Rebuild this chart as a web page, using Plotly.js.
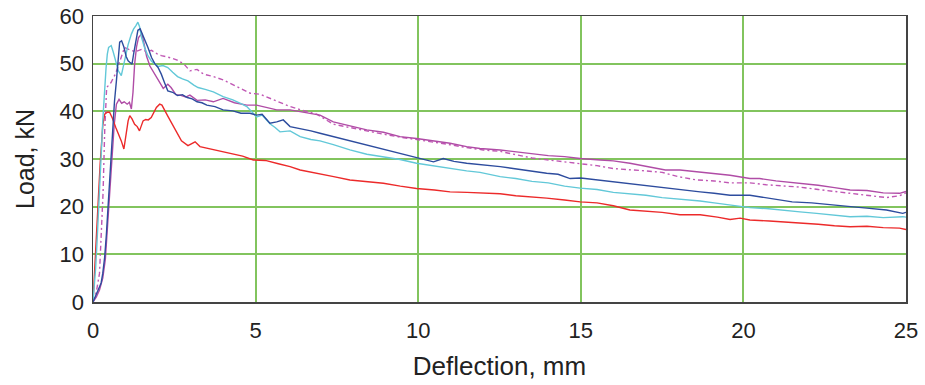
<!DOCTYPE html>
<html>
<head>
<meta charset="utf-8">
<script src="https://cdn.plot.ly/plotly-3.0.1.min.js"></script>
<style>html,body{margin:0;padding:0;background:#fff;}#chart{width:925px;height:385px;}</style>
</head>
<body>
<div id="chart"></div>
<script>
// Deflection (mm) and Load (kN)
var redX = [0, 0.03, 0.06, 0.1, 0.14, 0.18, 0.22, 0.26, 0.3, 0.36, 0.44, 0.51, 0.6, 0.7, 0.8, 0.87, 0.95, 1.02, 1.08, 1.13, 1.2, 1.28, 1.36, 1.43, 1.5, 1.54, 1.62, 1.7, 1.79, 1.87, 1.95, 2.05, 2.12, 2.3, 2.5, 2.72, 2.92, 3.05, 3.14, 3.29, 3.5, 3.8, 4.21, 4.6, 4.93, 5.3, 5.7, 6.06, 6.37, 6.9, 7.4, 7.9, 8.42, 8.93, 9.45, 9.95, 10.5, 10.98, 11.5, 12.0, 12.52, 13.0, 13.5, 13.95, 14.5, 14.98, 15.5, 16.0, 16.51, 17.0, 17.5, 18.05, 18.67, 19.2, 19.59, 19.9, 20.2, 20.8, 21.3, 21.74, 22.3, 22.8, 23.28, 23.8, 24.3, 24.8, 25.0];
var redY = [0, 4, 9, 15, 20, 25, 29, 33, 37, 39.4, 39.8, 39.8, 38.5, 36.6, 35, 33.8, 32.1, 35.5, 38, 39.1, 38.4, 37.3, 36.8, 35.9, 37, 38, 38.3, 38.2, 38.7, 39.6, 40.8, 41.5, 41.3, 39, 36.5, 33.8, 32.8, 33.2, 33.6, 32.6, 32.3, 31.8, 31.2, 30.6, 29.8, 29.7, 29.0, 28.4, 27.7, 26.9, 26.3, 25.6, 25.2, 24.9, 24.3, 23.8, 23.5, 23.1, 23.0, 22.8, 22.7, 22.3, 22.1, 21.8, 21.4, 21.0, 20.8, 20.2, 19.3, 19.1, 18.8, 18.3, 18.3, 17.8, 17.3, 17.6, 17.2, 17.0, 16.8, 16.5, 16.3, 16.0, 15.8, 15.9, 15.6, 15.5, 15.2];

var blueX = [0, 0.05, 0.1, 0.15, 0.2, 0.25, 0.3, 0.36, 0.41, 0.46, 0.51, 0.56, 0.61, 0.66, 0.72, 0.77, 0.82, 0.88, 0.95, 1.02, 1.08, 1.13, 1.2, 1.26, 1.32, 1.38, 1.45, 1.52, 1.6, 1.69, 1.8, 1.9, 2.0, 2.1, 2.2, 2.3, 2.45, 2.6, 2.75, 2.9, 3.05, 3.2, 3.35, 3.5, 3.75, 4.0, 4.3, 4.55, 4.83, 5.03, 5.2, 5.44, 5.65, 5.85, 6.06, 6.37, 6.7, 6.98, 7.39, 7.9, 8.42, 8.93, 9.44, 9.95, 10.2, 10.47, 10.77, 11.1, 11.49, 12.0, 12.52, 12.92, 13.4, 13.95, 14.3, 14.67, 15.0, 15.5, 16.0, 16.5, 17.0, 17.5, 18.05, 18.67, 19.1, 19.59, 20.2, 20.8, 21.5, 22.1, 22.77, 23.3, 23.8, 24.4, 24.9, 25.0];
var blueY = [0, 0.8, 1.5, 2.2, 3, 4, 6, 9.5, 14, 20, 26, 32, 37, 42, 46.4, 51, 54.5, 54.8, 53.5, 51.5, 50.6, 50.3, 49.9, 52.5, 55.2, 57, 57.3, 56.2, 55, 53.4, 51.3, 50, 49.2, 47.8, 46, 44.3, 44, 43.3, 43.5, 42.9, 42.6, 42, 41.8, 41.3, 41.0, 40.3, 40.1, 39.6, 39.6, 39.2, 39.4, 37.5, 37.8, 38.2, 36.8, 36.4, 35.9, 35.4, 34.7, 33.8, 32.9, 32.1, 31.2, 30.3, 30.0, 29.4, 30.1, 29.5, 29.1, 28.8, 28.4, 28, 27.5, 27, 26.8, 25.9, 26.0, 25.6, 25.2, 24.8, 24.4, 23.9, 23.5, 23.1, 22.8, 22.4, 22.4, 21.8, 21, 20.8, 20.3, 20.0, 19.7, 19.3, 18.6, 18.8];

var cyanX = [0, 0.04, 0.08, 0.12, 0.16, 0.2, 0.23, 0.26, 0.3, 0.35, 0.4, 0.44, 0.48, 0.52, 0.56, 0.62, 0.7, 0.78, 0.87, 0.93, 1.0, 1.08, 1.18, 1.25, 1.32, 1.38, 1.43, 1.49, 1.58, 1.68, 1.8, 1.9, 2.0, 2.15, 2.3, 2.45, 2.6, 2.75, 2.92, 3.1, 3.23, 3.45, 3.7, 4.0, 4.3, 4.55, 4.73, 4.83, 5.03, 5.2, 5.34, 5.44, 5.6, 5.75, 6.06, 6.37, 6.7, 6.98, 7.39, 7.9, 8.42, 8.93, 9.44, 9.95, 10.5, 10.98, 11.49, 11.9, 12.52, 13.0, 13.5, 14.0, 14.5, 14.98, 15.5, 16.0, 16.5, 17.0, 17.5, 18.05, 18.67, 19.1, 19.59, 20.2, 20.7, 21.2, 21.74, 22.25, 22.8, 23.28, 23.8, 24.3, 24.9, 25.0];
var cyanY = [0, 3, 7, 12, 17, 22, 27, 32, 38, 45, 49, 52, 53.4, 53.6, 53.8, 52.5, 50.5, 48.5, 47.5, 49.5, 52, 54, 56.2, 57.3, 58, 58.7, 57.8, 55.6, 53.5, 51.8, 50.5, 49.9, 49.4, 49.6, 49.2, 48.2, 47.3, 46.8, 46.4, 45.5, 45, 44.6, 44.1, 43.1, 42.4, 41.6, 41, 40.3, 38.8, 39.2, 38.2, 37.4, 36.6, 35.7, 35.9, 34.7, 34.1, 33.8, 33.0, 31.9, 31.0, 30.4, 29.9, 29.1, 28.5, 28.0, 27.5, 27.2, 26.3, 25.9, 25.3, 25.0, 24.3, 23.9, 23.6, 23.0, 22.7, 22.4, 21.9, 21.6, 21.2, 20.8, 20.3, 19.8, 19.6, 19.2, 18.9, 18.6, 18.3, 17.9, 18.0, 17.7, 17.9, 17.8];

var magX = [0, 0.1, 0.2, 0.3, 0.38, 0.45, 0.5, 0.55, 0.6, 0.65, 0.72, 0.8, 0.88, 0.96, 1.05, 1.12, 1.18, 1.23, 1.28, 1.34, 1.4, 1.45, 1.5, 1.56, 1.65, 1.75, 1.9, 2.05, 2.16, 2.3, 2.4, 2.55, 2.68, 2.85, 2.98, 3.2, 3.45, 3.7, 4.0, 4.35, 4.73, 5.03, 5.3, 5.65, 6.06, 6.37, 6.98, 7.39, 7.9, 8.42, 8.93, 9.44, 9.95, 10.5, 10.98, 11.49, 11.9, 12.52, 13.0, 13.44, 14.0, 14.5, 14.98, 15.6, 16.0, 16.51, 17.0, 17.6, 18.05, 18.67, 19.1, 19.59, 20.2, 20.5, 21.0, 21.74, 22.3, 22.8, 23.28, 23.8, 24.3, 24.8, 25.0];
var magY = [0, 1, 2.5, 5, 9, 16, 22, 27, 32, 37, 41.5, 42.5, 41.7, 42, 41.5, 41.9, 40.5, 44, 49.9, 53.6, 55.5, 56, 56.3, 54.5, 51.5, 49.5, 47.8, 46.3, 44.8, 45.7, 45, 43.5, 43.4, 43, 43.4, 42.3, 42.4, 42, 42.7, 41.8, 41.3, 41.3, 40.8, 40.3, 40.3, 39.9, 39.2, 37.8, 37.0, 36.1, 35.6, 34.7, 34.3, 33.8, 33.3, 32.6, 32.2, 31.9, 31.5, 31.2, 30.7, 30.5, 30.1, 29.8, 29.6, 29.1, 28.5, 27.7, 27.7, 27.3, 27.0, 26.6, 25.9, 25.9, 25.4, 24.9, 24.5, 24.0, 23.5, 23.4, 22.9, 22.8, 23.2];

var magDashX = [0, 0.1, 0.2, 0.26, 0.31, 0.36, 0.42, 0.55, 0.7, 0.85, 0.97, 1.1, 1.3, 1.5, 1.65, 1.8, 1.96, 2.1, 2.27, 2.4, 2.57, 2.8, 2.98, 3.2, 3.4, 3.7, 4.0, 4.31, 4.6, 4.83, 5.13, 5.44, 5.8, 6.06, 6.4, 6.88, 7.39, 7.9, 8.42, 8.93, 9.44, 9.95, 10.5, 10.98, 11.49, 12.0, 12.52, 13.0, 13.5, 14.0, 14.5, 15.0, 15.5, 16.0, 16.5, 17.0, 17.5, 18.0, 18.56, 19.1, 19.59, 20.2, 20.7, 21.2, 21.74, 22.3, 22.8, 23.28, 23.8, 24.4, 24.8, 25.0];
var magDashY = [0, 2, 6, 14, 23, 36, 45, 46, 48, 51, 53.4, 53, 52.5, 53, 52.5, 52.8, 52.1, 51.7, 51.5, 51.2, 50.8, 49.9, 48.5, 48.8, 47.8, 47.3, 46.6, 45.5, 44.6, 43.8, 43.6, 42.7, 41.8, 41, 40.3, 39.4, 37.3, 36.6, 35.8, 35.2, 34.6, 34.1, 33.5, 33.0, 32.4, 31.9, 31.6, 30.9, 30.2, 29.8, 29.4, 29.0, 28.6, 28.0, 27.8, 27.5, 27.2, 26.3, 25.6, 25.4, 25.0, 25.0, 24.6, 24.4, 24.1, 23.6, 23.2, 22.8, 22.4, 21.9, 22.3, 22.9];

var xTicks = [0, 5, 10, 15, 20, 25];
var yTicks = [0, 10, 20, 30, 40, 50, 60];

var FONT = 'Liberation Sans, Arial, sans-serif';

function line(x, y, color, dash) {
  return {x: x, y: y, type: 'scatter', mode: 'lines',
    line: {color: color, width: 1.4, dash: dash || 'solid'},
    hoverinfo: 'skip', showlegend: false};
}

var traces = [
  line(magDashX, magDashY, '#c057b4', '5px,3px,2px,3px'),
  line(magX, magY, '#b04ca6'),
  line(redX, redY, '#ec2a2a'),
  line(cyanX, cyanY, '#62c8d8'),
  line(blueX, blueY, '#2d4c9e')
];

var layout = {
  width: 925, height: 385,
  margin: {l: 93, r: 19, t: 16, b: 83},
  paper_bgcolor: '#ffffff', plot_bgcolor: '#ffffff',
  font: {family: FONT, color: '#222', size: 22},
  xaxis: {
    range: [0, 25], tickvals: xTicks, ticktext: xTicks.map(String),
    showgrid: true, gridcolor: '#82c45e', gridwidth: 2,
    showline: true, linecolor: '#444', linewidth: 1.5, mirror: true,
    zeroline: false, ticks: 'outside', ticklen: 8, tickcolor: 'rgba(0,0,0,0)',
    tickfont: {family: FONT, size: 22, color: '#222'},
    title: {text: 'Deflection, mm', font: {family: FONT, size: 26, color: '#222'}, standoff: 15},
    automargin: false
  },
  yaxis: {
    range: [0, 60], tickvals: yTicks, ticktext: yTicks.map(String),
    showgrid: true, gridcolor: '#82c45e', gridwidth: 2,
    showline: true, linecolor: '#444', linewidth: 1.5, mirror: true,
    zeroline: false, ticks: 'outside', ticklen: 3, tickcolor: 'rgba(0,0,0,0)',
    tickfont: {family: FONT, size: 22, color: '#222'},
    title: {text: 'Load, kN', font: {family: FONT, size: 25, color: '#222'}, standoff: 18},
    automargin: false
  }
};

Plotly.newPlot('chart', traces, layout, {displayModeBar: false, staticPlot: true});
</script>
</body>
</html>
